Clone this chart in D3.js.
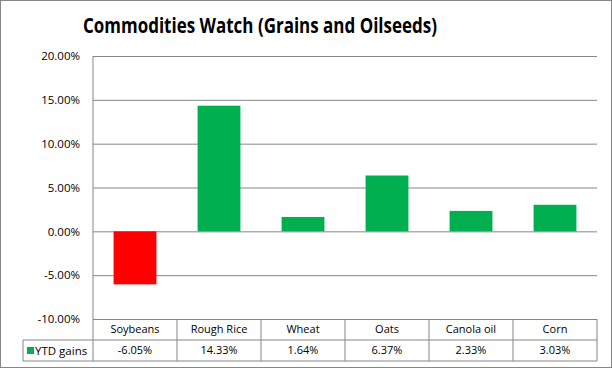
<!DOCTYPE html>
<html>
<head>
<meta charset="utf-8">
<script src="https://cdn.jsdelivr.net/npm/d3@7"></script>
<style>
  body { margin: 0; background: #fff; }
  text { font-family: "Open Sans", "Noto Sans", sans-serif; fill: #000; }
</style>
</head>
<body>
<div id="chart"></div>
<script>
var categories = ["Soybeans", "Rough Rice", "Wheat", "Oats", "Canola oil", "Corn"];
var ytdGains = [-6.05, 14.33, 1.64, 6.37, 2.33, 3.03];
var yTicks = [20, 15, 10, 5, 0, -5, -10];
var seriesName = "YTD gains";

var svgWidth = 612;
var svgHeight = 368;

var plot = { left: 93, right: 597, top: 56, bottom: 319 };
var rowH = 21;

var svg = d3.select("#chart")
  .append("svg")
    .attr("width", svgWidth)
    .attr("height", svgHeight);

// outer chart border
svg.append("rect")
  .attr("x", 0.5).attr("y", 0.5)
  .attr("width", svgWidth - 1).attr("height", svgHeight - 1)
  .attr("fill", "#fff")
  .attr("stroke", "#868686");

svg.append("text")
  .attr("x", 260)
  .attr("y", 33)
  .attr("text-anchor", "middle")
  .attr("font-size", "20.5px")
  .attr("font-weight", "bold")
  .attr("textLength", 354)
  .attr("lengthAdjust", "spacingAndGlyphs")
  .text("Commodities Watch (Grains and Oilseeds)");

var x = d3.scaleBand()
  .domain(categories)
  .range([plot.left, plot.right])
  .paddingInner(0.49)
  .paddingOuter(0.245);

var xCol = d3.scaleBand()
  .domain(categories)
  .range([plot.left, plot.right]);

var y = d3.scaleLinear()
  .domain([-10, 20])
  .range([plot.bottom, plot.top]);

// gridlines + labels
var yAxis = d3.axisLeft(y)
  .tickValues(yTicks)
  .tickSize(-(plot.right - plot.left))
  .tickPadding(13)
  .tickFormat(d => d.toFixed(2) + "%");

var gy = svg.append("g")
  .attr("transform", "translate(" + plot.left + ",0)")
  .call(yAxis);
gy.select(".domain").remove();
gy.selectAll("line").attr("stroke", "#868686");
gy.selectAll("text")
  .attr("font-size", "11.5px")
  .attr("font-family", "\"Open Sans\", sans-serif");

// bars
svg.selectAll("rect.bar")
  .data(ytdGains)
  .enter()
  .append("rect")
  .attr("class", "bar")
  .attr("x", (d, i) => x(categories[i]))
  .attr("width", x.bandwidth())
  .attr("y", d => y(Math.max(0, d)))
  .attr("height", d => Math.abs(y(d) - y(0)))
  .attr("fill", d => d < 0 ? "#ff0000" : "#00b050");

// left axis line
svg.append("line")
  .attr("x1", plot.left).attr("x2", plot.left)
  .attr("y1", plot.top).attr("y2", plot.bottom + 2 * rowH)
  .attr("stroke", "#868686");

// data table
var tbl = svg.append("g").attr("stroke", "#868686").attr("fill", "none");
var tblLeft = 23;
tbl.append("line")
  .attr("x1", tblLeft).attr("x2", plot.right)
  .attr("y1", plot.bottom + rowH).attr("y2", plot.bottom + rowH);
tbl.append("line")
  .attr("x1", tblLeft).attr("x2", plot.right)
  .attr("y1", plot.bottom + 2 * rowH).attr("y2", plot.bottom + 2 * rowH);
tbl.append("line")
  .attr("x1", tblLeft).attr("x2", tblLeft)
  .attr("y1", plot.bottom + rowH).attr("y2", plot.bottom + 2 * rowH);
tbl.selectAll("line.col")
  .data(categories)
  .enter()
  .append("line")
  .attr("class", "col")
  .attr("x1", d => xCol(d) + xCol.bandwidth())
  .attr("x2", d => xCol(d) + xCol.bandwidth())
  .attr("y1", plot.bottom)
  .attr("y2", plot.bottom + 2 * rowH);

svg.selectAll("text.cat")
  .data(categories)
  .enter()
  .append("text")
  .attr("class", "cat")
  .attr("x", d => xCol(d) + xCol.bandwidth() / 2)
  .attr("y", plot.bottom + rowH / 2)
  .attr("dy", "0.35em")
  .attr("text-anchor", "middle")
  .attr("font-size", "11px")
  .text(d => d);

svg.selectAll("text.val")
  .data(ytdGains)
  .enter()
  .append("text")
  .attr("class", "val")
  .attr("x", (d, i) => xCol(categories[i]) + xCol.bandwidth() / 2)
  .attr("y", plot.bottom + rowH * 1.5)
  .attr("dy", "0.35em")
  .attr("text-anchor", "middle")
  .attr("font-size", "11px")
  .text(d => d.toFixed(2) + "%");

// legend key in table
svg.append("rect")
  .attr("x", 27).attr("y", plot.bottom + rowH * 1.5 - 3.5)
  .attr("width", 7).attr("height", 7)
  .attr("fill", "#00b050");
svg.append("text")
  .attr("x", 35)
  .attr("y", plot.bottom + rowH * 1.5)
  .attr("dy", "0.35em")
  .attr("font-size", "11.5px")
  .text(seriesName);
</script>
</body>
</html>
